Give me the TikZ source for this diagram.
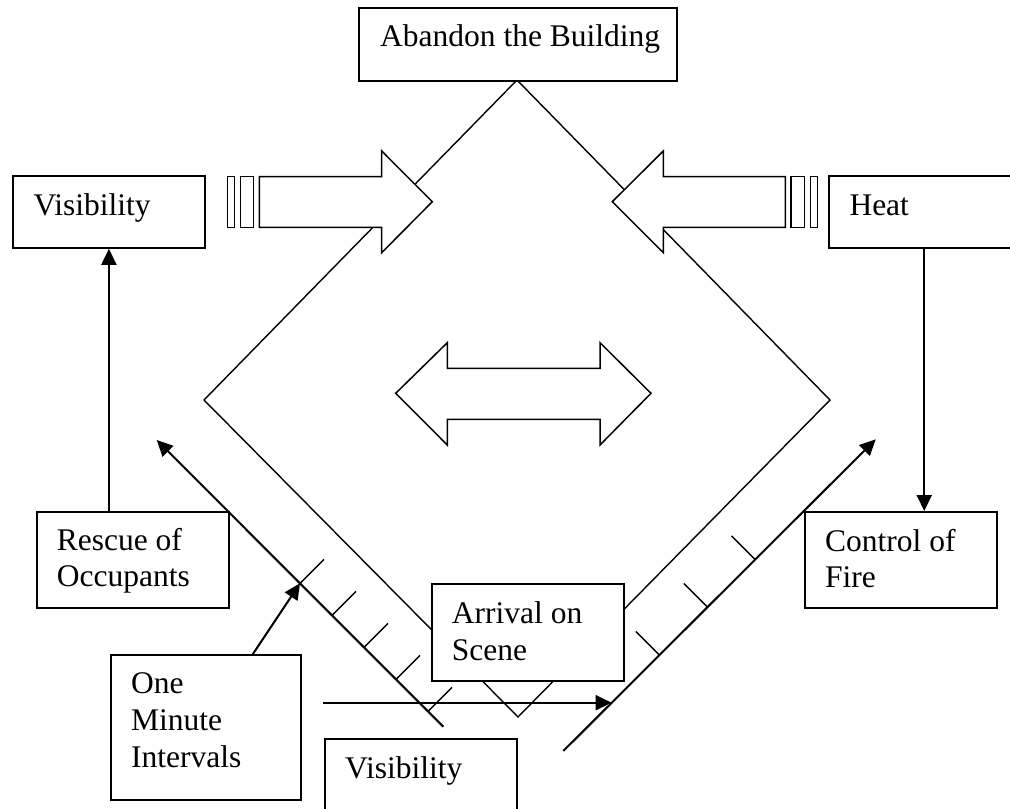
\documentclass[tikz,border=0pt]{standalone}
\usepackage{fontspec}
\setmainfont{Liberation Serif}
\usetikzlibrary{arrows.meta,calc}
\begin{document}
\begin{tikzpicture}[x=1pt,y=-1pt,
  box/.style={draw,line width=1.8pt,fill=white,inner sep=0pt,anchor=north west},
  lbl/.style={anchor=base west,inner sep=0pt,font=\fontsize{31.5}{36.5}\selectfont},
  thinline/.style={line width=1.4pt},
  conn/.style={line width=2pt,-{Triangle[length=16pt,width=15pt]}},
  blk/.style={line width=1.5pt,fill=white,line join=miter}]
\useasboundingbox (0,0) rectangle (1010,809);

% diamond
\draw[thinline] (517,80) -- (204,400) -- (518,717) -- (830,400) -- cycle;

% left block arrow with bars
\draw[blk] (259.3,176.7) -- (381.7,176.7) -- (381.7,151) -- (432.3,201.7) -- (381.7,252.7) -- (381.7,227.3) -- (259.3,227.3) -- cycle;
\draw[blk] (227.7,176.7) rectangle (234.3,227.3);
\draw[blk] (240.3,176.7) rectangle (253.3,227.3);

% right block arrow with bars
\draw[blk] (785.3,176.7) -- (663.3,176.7) -- (663.3,151) -- (612.3,201.7) -- (663.3,252.7) -- (663.3,227.3) -- (785.3,227.3) -- cycle;
\draw[blk] (791,176.7) rectangle (804.3,227.3);
\draw[blk] (810.7,176.7) rectangle (817.3,227.3);

% centre double arrow
\draw[blk] (395.7,393.3) -- (447.3,342.7) -- (447.3,368.3) -- (600,368.3) -- (600,342.7) -- (651,393.3) -- (600,445) -- (600,419.3) -- (447.3,419.3) -- (447.3,445) -- cycle;

% boxes
\node[box,minimum width=318pt,minimum height=72.7pt] (abandon) at (358,7.3) {};
\node[box,minimum width=192pt,minimum height=72pt] (visL) at (12,175) {};
\node[box,minimum width=191.3pt,minimum height=71.4pt] (heat) at (827.7,175.3) {};
\node[box,minimum width=192.3pt,minimum height=96pt] (rescue) at (35.7,510.7) {};
\node[box,minimum width=192pt,minimum height=96pt] (control) at (804,511) {};
\node[box,minimum width=192pt,minimum height=97pt] (arrival) at (430.7,583) {};
\node[box,minimum width=190pt,minimum height=144.7pt] (onemin) at (110,654.3) {};
\node[box,minimum width=192pt,minimum height=90pt] (visB) at (324,738.3) {};

% labels
\node[lbl] (t1) at ($(abandon.north west)+(22,39.4)$) {Abandon the Building};
\node[lbl] (t2) at ($(visL.north west)+(21.3,40)$) {Visibility};
\node[lbl] (t3) at ($(heat.north west)+(21.6,40)$) {Heat};
\node[lbl] (t4a) at ($(rescue.north west)+(21,39.3)$) {Rescue of};
\node[lbl] (t4b) at ($(rescue.north west)+(21,76)$) {Occupants};
\node[lbl] (t5a) at ($(control.north west)+(21,40)$) {Control of};
\node[lbl] (t5b) at ($(control.north west)+(21,76.5)$) {Fire};
\node[lbl] (t6a) at ($(arrival.north west)+(21,40)$) {Arrival on};
\node[lbl] (t6b) at ($(arrival.north west)+(21,77)$) {Scene};
\node[lbl] (t7a) at ($(onemin.north west)+(21,38.7)$) {One};
\node[lbl] (t7b) at ($(onemin.north west)+(21,75.7)$) {Minute};
\node[lbl] (t7c) at ($(onemin.north west)+(21,112.7)$) {Intervals};
\node[lbl] (t8) at ($(visB.north west)+(21,39.7)$) {Visibility};

% ladders
\coordinate (LLtip) at (156.7,440);
\coordinate (LLend) at (443.3,726.7);
\coordinate (LLtick) at (300,583.3);
\draw[conn] (LLend) -- (LLtip);
\foreach \x in {300,332,364,396,428}
  \draw[thinline] (\x,\x+283.3) -- ++(24,-24);

\coordinate (RLtip) at (875.7,439.3);
\coordinate (RLend) at (563.3,751);
\draw[conn] (RLend) -- (RLtip);
\foreach \x in {659.3,707.3,755}
  \draw[thinline] (\x,1314.3-\x) -- ++(-23.5,-23.5);

% connectors
\draw[conn] (rescue.north -| visL.south) -- (visL.south);
\draw[conn] (heat.south) -- (heat.south |- control.north);
\draw[conn] ($(onemin.north west)+(142.7,0)$) -- (LLtick);
\coordinate (hstart) at (323.3,702.7);
\coordinate (hend) at (611.6,702.7);
\draw[conn] (hstart) -- (hend);
\end{tikzpicture}
\end{document}
